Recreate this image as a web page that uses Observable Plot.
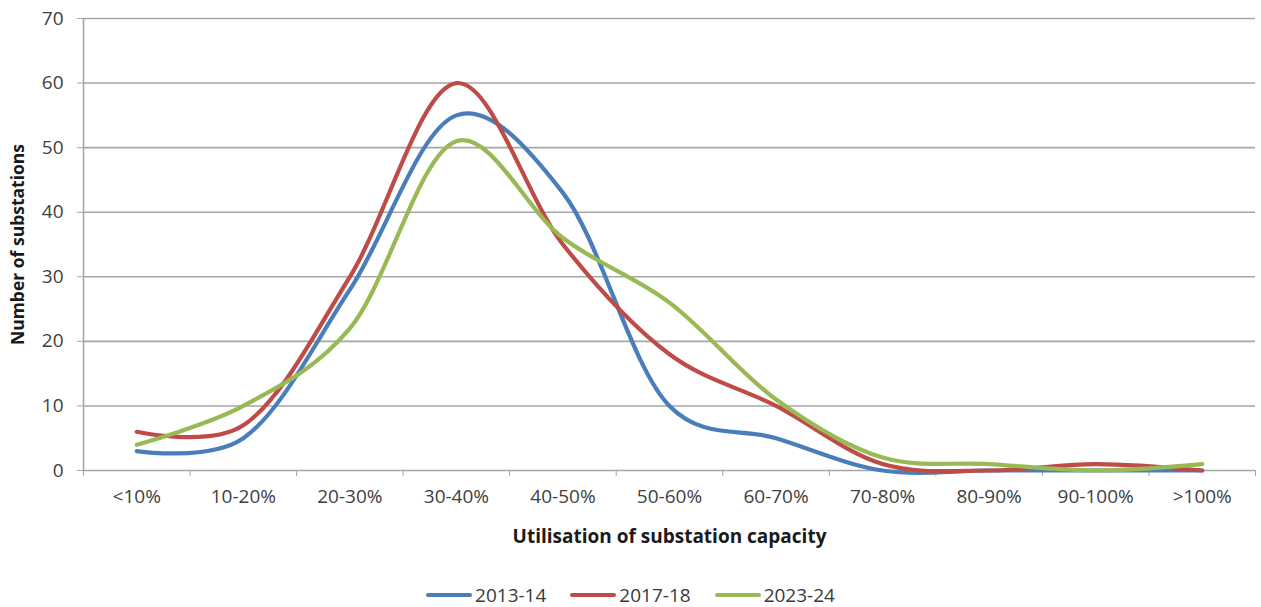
<!DOCTYPE html>
<html>
<head>
<meta charset="utf-8">
<script src="https://cdn.jsdelivr.net/npm/d3@7"></script>
<script src="https://cdn.jsdelivr.net/npm/@observablehq/plot@0.6"></script>
<style>
  html, body { margin: 0; padding: 0; background: #fff; }
  body { width: 1261px; height: 607px; overflow: hidden; font-family: "Open Sans", "Liberation Sans", sans-serif; }
  #chart svg { display: block; }
  #chart svg [aria-label="x-axis label"] text,
  #chart svg [aria-label="y-axis label"] text { font-weight: bold; fill: #1a1a1a; }
  #chart svg [aria-label="y-axis label"] text { font-size: 17.5px; }
  #legend { display: flex; justify-content: center; align-items: center; gap: 24px; height: 20px; line-height: 20px; margin-top: 10px; font-size: 19px; color: #3a3a3a; }
  #legend .item { display: flex; align-items: center; gap: 3px; }
  #legend .sw { width: 46px; height: 4px; border-radius: 2px; }
</style>
</head>
<body>
<div id="chart"></div>
<div id="legend"></div>
<script>
const categories = ["<10%","10-20%","20-30%","30-40%","40-50%","50-60%","60-70%","70-80%","80-90%","90-100%",">100%"];
const seriesNames = ["2013-14","2017-18","2023-24"];
const seriesColors = ["#4a7ebb","#be4b48","#98b954"];
const values2013 = [3, 5, 28, 55, 43, 10, 5, 0, 0, 0, 0];
const values2017 = [6, 7, 30, 60, 35, 18, 10, 1, 0, 1, 0];
const values2023 = [4, 10, 22, 51, 36, 26, 11, 2, 1, 0, 1];
const yTicks = [0, 10, 20, 30, 40, 50, 60, 70];

const seriesValues = [values2013, values2017, values2023];
const data = [];
seriesNames.forEach((s, k) => seriesValues[k].forEach((v, i) => data.push({series: s, i, v})));
const boundaries = d3.range(-0.5, categories.length, 1);

const chart = Plot.plot({
  width: 1261,
  height: 575,
  marginLeft: 83,
  marginRight: 6,
  marginTop: 18,
  marginBottom: 105,
  style: {fontFamily: "'Open Sans', 'Liberation Sans', sans-serif", fontSize: "19px", background: "#fff"},
  x: {type: "linear", domain: [-0.5, categories.length - 0.5]},
  y: {domain: [0, 70]},
  color: {domain: seriesNames, range: seriesColors},
  marks: [
    Plot.gridY(yTicks, {stroke: "#a6a6a6", strokeOpacity: 1, strokeWidth: 1.6}),
    Plot.ruleX([-0.5], {stroke: "#a6a6a6", strokeWidth: 1.6}),
    Plot.axisY({ticks: yTicks, tickSize: 6, tickPadding: 14, stroke: "#a6a6a6", fill: "#404040", fontSize: 19,
      label: "Number of substations", labelAnchor: "center", labelArrow: "none", labelOffset: 72}),
    Plot.axisX({ticks: boundaries, tickSize: 6, tickFormat: () => "", stroke: "#a6a6a6", label: null}),
    Plot.axisX({ticks: d3.range(categories.length), tickSize: 0, tickPadding: 19, tickFormat: i => categories[i],
      fill: "#404040", fontSize: 19,
      label: "Utilisation of substation capacity", labelAnchor: "center", labelArrow: "none", labelOffset: 72}),
    Plot.line(data, {x: "i", y: "v", z: "series", stroke: "series", curve: "catmull-rom", tension: 0.2, strokeWidth: 4.2, strokeLinejoin: "round"})
  ]
});
document.getElementById("chart").appendChild(chart);

const legend = document.getElementById("legend");
seriesNames.forEach((s, k) => {
  const item = document.createElement("div");
  item.className = "item";
  const sw = document.createElement("div");
  sw.className = "sw";
  sw.style.background = seriesColors[k];
  const t = document.createElement("span");
  t.textContent = s;
  item.appendChild(sw); item.appendChild(t);
  legend.appendChild(item);
});
</script>
</body>
</html>
